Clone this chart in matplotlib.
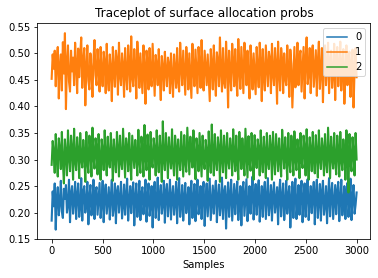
import numpy as np
import matplotlib
matplotlib.use("Agg")
import matplotlib.pyplot as plt

# trace values (about one every 10 samples)
probs_0 = [
    0.185, 0.240, 0.212, 0.255, 0.168, 0.228, 0.248, 0.195, 0.218, 0.260, 0.202, 0.190, 0.245, 0.226, 0.252, 0.200, 0.215, 0.262, 0.182, 0.236,
    0.250, 0.198, 0.222, 0.258, 0.188, 0.232, 0.255, 0.192, 0.212, 0.265, 0.185, 0.240, 0.250, 0.200, 0.220, 0.258, 0.178, 0.230, 0.252, 0.195,
    0.215, 0.262, 0.188, 0.238, 0.248, 0.196, 0.225, 0.256, 0.190, 0.218, 0.260, 0.182, 0.235, 0.253, 0.198, 0.222, 0.248, 0.187, 0.230, 0.262,
    0.194, 0.212, 0.255, 0.180, 0.240, 0.250, 0.200, 0.226, 0.258, 0.189, 0.215, 0.253, 0.196, 0.232, 0.264, 0.185, 0.222, 0.250, 0.199, 0.238,
    0.257, 0.176, 0.228, 0.255, 0.192, 0.218, 0.260, 0.186, 0.236, 0.248, 0.197, 0.223, 0.262, 0.183, 0.230, 0.255, 0.194, 0.215, 0.250, 0.172,
    0.238, 0.258, 0.190, 0.222, 0.266, 0.186, 0.232, 0.252, 0.198, 0.218, 0.260, 0.181, 0.240, 0.254, 0.193, 0.225, 0.262, 0.187, 0.230, 0.250,
    0.196, 0.220, 0.258, 0.180, 0.236, 0.265, 0.192, 0.215, 0.252, 0.185, 0.228, 0.256, 0.199, 0.222, 0.248, 0.178, 0.238, 0.260, 0.190, 0.226,
    0.254, 0.184, 0.232, 0.262, 0.197, 0.218, 0.250, 0.188, 0.240, 0.258, 0.175, 0.225, 0.255, 0.193, 0.230, 0.264, 0.186, 0.220, 0.251, 0.198,
    0.236, 0.260, 0.182, 0.228, 0.253, 0.195, 0.215, 0.266, 0.188, 0.238, 0.250, 0.170, 0.226, 0.257, 0.192, 0.232, 0.262, 0.185, 0.219, 0.254,
    0.197, 0.235, 0.259, 0.186, 0.222, 0.250, 0.176, 0.240, 0.258, 0.194, 0.228, 0.263, 0.184, 0.215, 0.250, 0.198, 0.236, 0.268, 0.187, 0.225,
    0.254, 0.196, 0.232, 0.261, 0.183, 0.220, 0.250, 0.192, 0.238, 0.258, 0.188, 0.226, 0.265, 0.195, 0.218, 0.252, 0.185, 0.234, 0.257, 0.200,
    0.222, 0.248, 0.178, 0.236, 0.262, 0.193, 0.228, 0.255, 0.186, 0.215, 0.260, 0.198, 0.232, 0.250, 0.172, 0.225, 0.258, 0.190, 0.240, 0.264,
    0.188, 0.218, 0.252, 0.196, 0.234, 0.260, 0.182, 0.226, 0.255, 0.192, 0.240, 0.263, 0.186, 0.220, 0.250, 0.199, 0.232, 0.258, 0.178, 0.236,
    0.262, 0.190, 0.224, 0.254, 0.185, 0.238, 0.260, 0.196, 0.215, 0.250, 0.180, 0.228, 0.265, 0.193, 0.235, 0.256, 0.188, 0.220, 0.252, 0.197,
    0.240, 0.258, 0.184, 0.226, 0.262, 0.195, 0.218, 0.250, 0.188, 0.236, 0.256, 0.192, 0.222, 0.264, 0.186, 0.230, 0.252, 0.198, 0.215, 0.238,
]
probs_1 = [
    0.452, 0.498, 0.471, 0.505, 0.438, 0.489, 0.512, 0.415, 0.476, 0.498, 0.430, 0.521, 0.462, 0.538, 0.395, 0.483, 0.515, 0.447, 0.428, 0.505,
    0.466, 0.492, 0.440, 0.520, 0.478, 0.425, 0.509, 0.455, 0.497, 0.530, 0.435, 0.486, 0.510, 0.402, 0.471, 0.515, 0.448, 0.432, 0.500, 0.468,
    0.418, 0.488, 0.525, 0.459, 0.440, 0.508, 0.474, 0.428, 0.512, 0.463, 0.438, 0.503, 0.481, 0.425, 0.518, 0.452, 0.430, 0.498, 0.470, 0.410,
    0.512, 0.466, 0.437, 0.505, 0.488, 0.422, 0.520, 0.459, 0.440, 0.500, 0.476, 0.418, 0.510, 0.463, 0.432, 0.515, 0.480, 0.428, 0.532, 0.456,
    0.438, 0.508, 0.472, 0.415, 0.522, 0.485, 0.435, 0.500, 0.461, 0.425, 0.515, 0.470, 0.405, 0.505, 0.482, 0.432, 0.510, 0.458, 0.438, 0.518,
    0.467, 0.420, 0.497, 0.478, 0.440, 0.508, 0.455, 0.412, 0.495, 0.472, 0.430, 0.503, 0.466, 0.438, 0.492, 0.480, 0.425, 0.500, 0.455, 0.418,
    0.498, 0.469, 0.435, 0.510, 0.448, 0.428, 0.520, 0.476, 0.440, 0.505, 0.462, 0.422, 0.512, 0.483, 0.432, 0.500, 0.458, 0.416, 0.518, 0.471,
    0.438, 0.507, 0.465, 0.425, 0.512, 0.480, 0.435, 0.525, 0.458, 0.430, 0.505, 0.474, 0.440, 0.498, 0.452, 0.410, 0.508, 0.478, 0.432, 0.515,
    0.461, 0.420, 0.502, 0.485, 0.438, 0.530, 0.468, 0.428, 0.510, 0.446, 0.435, 0.522, 0.479, 0.398, 0.505, 0.463, 0.430, 0.518, 0.484, 0.438,
    0.508, 0.455, 0.420, 0.527, 0.474, 0.433, 0.512, 0.466, 0.425, 0.520, 0.488, 0.440, 0.505, 0.452, 0.415, 0.515, 0.478, 0.432, 0.500, 0.461,
    0.423, 0.512, 0.470, 0.436, 0.520, 0.483, 0.410, 0.508, 0.459, 0.430, 0.515, 0.475, 0.438, 0.503, 0.490, 0.425, 0.518, 0.462, 0.440, 0.510,
    0.477, 0.405, 0.522, 0.466, 0.430, 0.510, 0.488, 0.425, 0.500, 0.453, 0.440, 0.515, 0.472, 0.418, 0.507, 0.480, 0.398, 0.455, 0.512, 0.436,
    0.468, 0.520, 0.440, 0.495, 0.505, 0.428, 0.472, 0.512, 0.415, 0.488, 0.530, 0.442, 0.462, 0.510, 0.425, 0.498, 0.515, 0.437, 0.470, 0.506,
    0.420, 0.485, 0.522, 0.433, 0.467, 0.510, 0.408, 0.492, 0.515, 0.440, 0.475, 0.520, 0.425, 0.486, 0.505, 0.435, 0.460, 0.518, 0.412, 0.490,
    0.512, 0.438, 0.470, 0.522, 0.430, 0.478, 0.508, 0.405, 0.465, 0.515, 0.440, 0.492, 0.503, 0.418, 0.480, 0.507, 0.398, 0.470, 0.510, 0.455,
]
probs_2 = [
    0.290, 0.335, 0.312, 0.275, 0.348, 0.300, 0.268, 0.340, 0.318, 0.282, 0.352, 0.295, 0.255, 0.338, 0.310, 0.270, 0.355, 0.305, 0.278, 0.345,
    0.320, 0.262, 0.358, 0.298, 0.280, 0.342, 0.315, 0.265, 0.350, 0.302, 0.285, 0.337, 0.312, 0.258, 0.352, 0.296, 0.275, 0.345, 0.318, 0.268,
    0.360, 0.305, 0.283, 0.340, 0.322, 0.272, 0.348, 0.300, 0.262, 0.338, 0.315, 0.280, 0.355, 0.308, 0.270, 0.343, 0.298, 0.285, 0.350, 0.312,
    0.260, 0.338, 0.303, 0.276, 0.352, 0.318, 0.268, 0.345, 0.296, 0.282, 0.358, 0.310, 0.266, 0.340, 0.322, 0.278, 0.350, 0.300, 0.262, 0.345,
    0.315, 0.284, 0.337, 0.306, 0.270, 0.356, 0.298, 0.275, 0.343, 0.320, 0.268, 0.365, 0.305, 0.280, 0.347, 0.312, 0.262, 0.352, 0.296, 0.285,
    0.340, 0.318, 0.270, 0.355, 0.302, 0.276, 0.345, 0.310, 0.258, 0.372, 0.300, 0.280, 0.350, 0.314, 0.265, 0.342, 0.306, 0.283, 0.357, 0.298,
    0.270, 0.345, 0.320, 0.262, 0.338, 0.303, 0.280, 0.352, 0.311, 0.268, 0.346, 0.297, 0.277, 0.360, 0.316, 0.272, 0.343, 0.305, 0.285, 0.355,
    0.300, 0.263, 0.340, 0.318, 0.278, 0.350, 0.308, 0.268, 0.345, 0.296, 0.282, 0.337, 0.314, 0.260, 0.353, 0.302, 0.275, 0.366, 0.311, 0.270,
    0.348, 0.298, 0.280, 0.342, 0.320, 0.258, 0.355, 0.305, 0.276, 0.345, 0.312, 0.265, 0.350, 0.300, 0.283, 0.340, 0.318, 0.270, 0.357, 0.306,
    0.278, 0.345, 0.296, 0.262, 0.352, 0.314, 0.282, 0.340, 0.302, 0.270, 0.358, 0.310, 0.266, 0.344, 0.298, 0.279, 0.350, 0.316, 0.262, 0.346,
    0.305, 0.284, 0.338, 0.318, 0.270, 0.355, 0.300, 0.276, 0.343, 0.310, 0.265, 0.350, 0.296, 0.282, 0.345, 0.320, 0.262, 0.352, 0.304, 0.272,
    0.348, 0.312, 0.278, 0.340, 0.300, 0.268, 0.356, 0.315, 0.283, 0.342, 0.306, 0.262, 0.350, 0.298, 0.276, 0.345, 0.318, 0.270, 0.353, 0.302,
    0.280, 0.338, 0.312, 0.265, 0.350, 0.298, 0.284, 0.345, 0.320, 0.270, 0.357, 0.306, 0.262, 0.342, 0.315, 0.278, 0.352, 0.300, 0.274, 0.346,
    0.310, 0.266, 0.355, 0.302, 0.282, 0.340, 0.318, 0.270, 0.348, 0.296, 0.276, 0.360, 0.312, 0.265, 0.343, 0.305, 0.283, 0.350, 0.298, 0.272,
    0.345, 0.316, 0.268, 0.352, 0.300, 0.280, 0.338, 0.310, 0.262, 0.355, 0.305, 0.238, 0.348, 0.296, 0.278, 0.342, 0.314, 0.270, 0.350, 0.300,
]
series = [probs_0, probs_1, probs_2]
labels = ["0", "1", "2"]

fig = plt.figure(figsize=(378 / 72, 278 / 72), dpi=72)
ax = fig.add_axes([0.099, 0.139, 0.881, 0.778])
for vals, lab in zip(series, labels):
    samples = np.linspace(0, 2999, len(vals))
    ax.plot(samples, vals, label=lab, lw=2.1)

ax.set_xlim(-140, 3135)
ax.set_ylim(0.1497, 0.557)
ax.set_title("Traceplot of surface allocation probs")
ax.set_xlabel("Samples")
leg = ax.legend(loc="upper right")
for line in leg.get_lines():
    line.set_linewidth(1.5)

fig.savefig("out.png", dpi=72)
